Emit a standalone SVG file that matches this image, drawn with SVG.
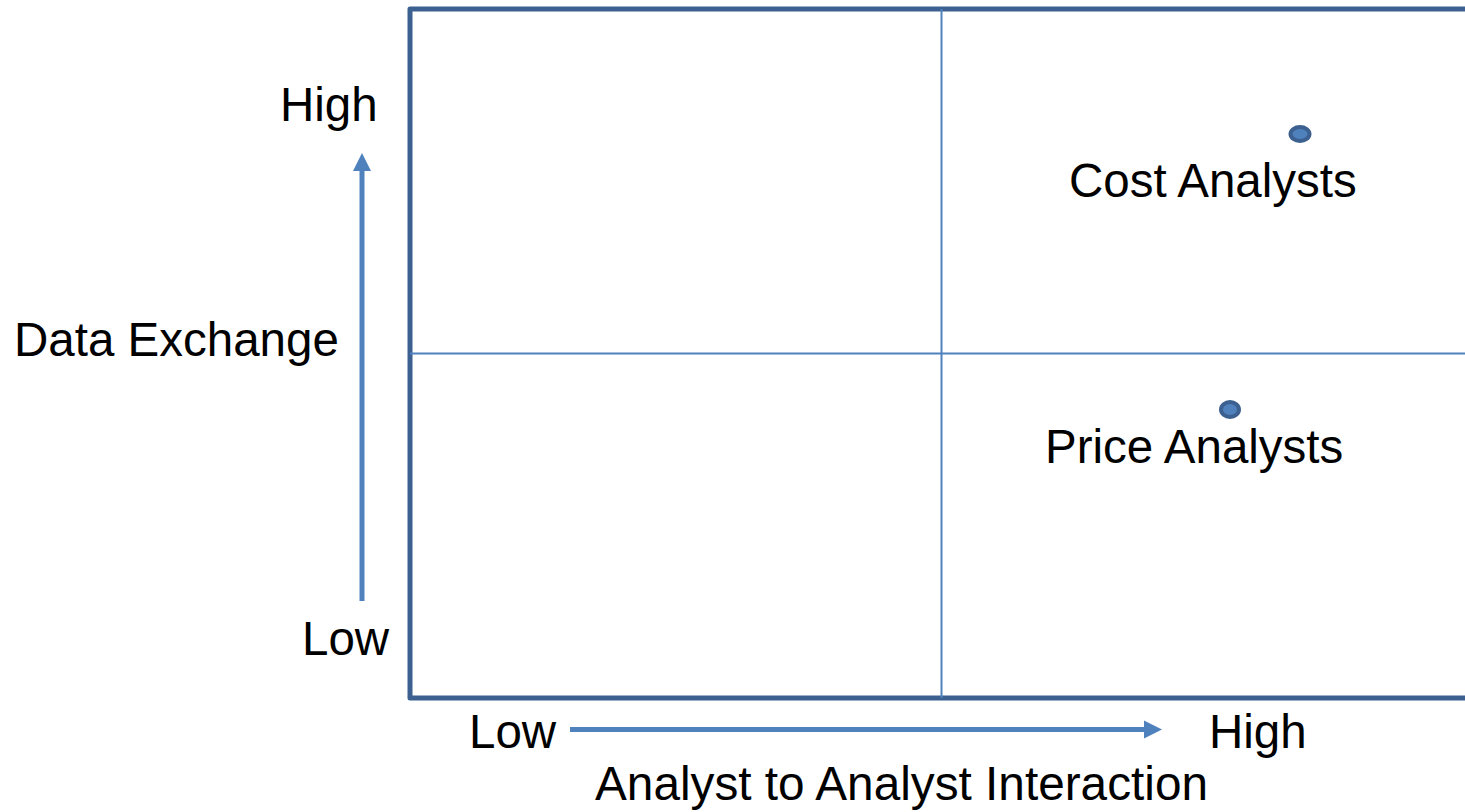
<svg xmlns="http://www.w3.org/2000/svg" width="1465" height="812" viewBox="0 0 1465 812">
  <style>
    .lbl { font-family: "Liberation Sans", Arial, sans-serif; font-size: 47.5px; fill: #000000; }
    .frame { fill: none; stroke: #3c6190; stroke-width: 5; stroke-linejoin: round; }
    .grid { stroke: #4f81bd; stroke-width: 2; fill: none; }
    .axis { stroke: #4f81bd; stroke-width: 5; fill: none; }
    .head { fill: #4f81bd; }
    .dot { fill: #4f81bd; stroke: #3c6190; stroke-width: 4; }
  </style>
  <rect width="1465" height="812" fill="#ffffff"/>

  <!-- quadrant frame, open on the right -->
  <g id="frame">
    <path class="frame" d="M1470,9 H410 V698 H1470"/>
    <line class="grid" x1="941.5" y1="9" x2="941.5" y2="698"/>
    <line class="grid" x1="410" y1="353.5" x2="1470" y2="353.5"/>
  </g>

  <!-- axis arrows -->
  <g id="connectors">
    <line class="axis" x1="362" y1="601" x2="362" y2="168"/>
    <polygon class="head" points="362,153 353,171 371,171"/>
    <line class="axis" x1="570" y1="729.5" x2="1146" y2="729.5"/>
    <polygon class="head" points="1162,729.5 1144,720.5 1144,738.5"/>
  </g>

  <!-- axis labels -->
  <g id="y-axis-labels">
    <text class="lbl" x="280" y="121">High</text>
    <text class="lbl" x="14" y="356">Data Exchange</text>
    <text class="lbl" x="302" y="655">Low</text>
  </g>
  <g id="x-axis-labels">
    <text class="lbl" x="469" y="748">Low</text>
    <text class="lbl" x="1209" y="748">High</text>
    <text class="lbl" x="595" y="800" textLength="613" lengthAdjust="spacingAndGlyphs">Analyst to Analyst Interaction</text>
  </g>

  <!-- plotted groups -->
  <g id="cost-analysts">
    <ellipse class="dot" cx="1300" cy="134" rx="9.5" ry="7"/>
    <text class="lbl" x="1069" y="197">Cost Analysts</text>
  </g>
  <g id="price-analysts">
    <ellipse class="dot" cx="1230" cy="409.5" rx="9" ry="7.5"/>
    <text class="lbl" x="1045" y="463">Price Analysts</text>
  </g>
</svg>
